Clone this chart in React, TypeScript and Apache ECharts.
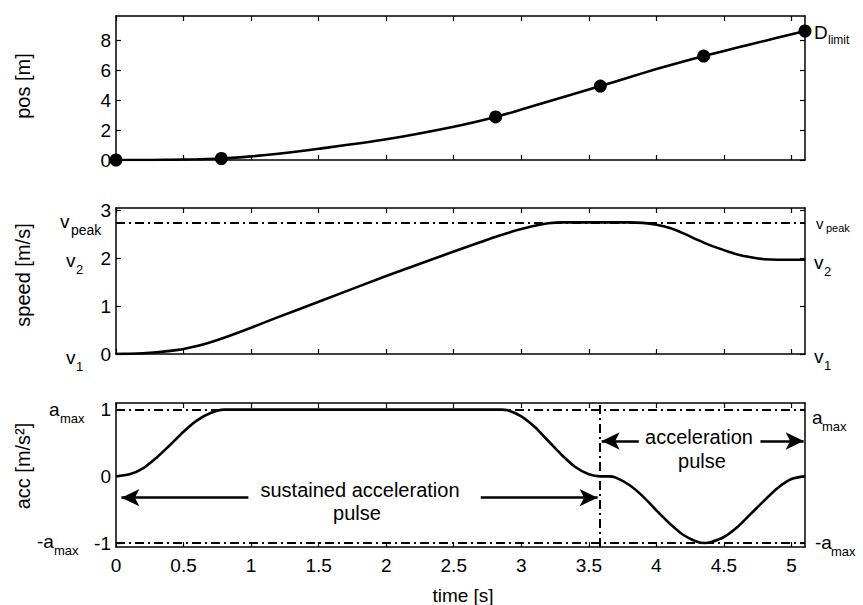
import { useEffect, useRef } from "react";
import * as echarts from "echarts";

// Axis tick values
const TIME_TICKS = [0, 0.5, 1, 1.5, 2, 2.5, 3, 3.5, 4, 4.5, 5];
const POS_TICKS = [0, 2, 4, 6, 8];
const SPEED_TICKS = [0, 1, 2, 3];
const ACC_TICKS = [-1, 0, 1];

// Position profile [m]
const posTime = [0, 0.2, 0.4, 0.6, 0.78, 1.0, 1.2, 1.5, 2.0, 2.5, 2.81, 3.0, 3.2, 3.4, 3.585, 3.8, 4.0, 4.2, 4.35, 4.5, 4.7, 4.9, 5.1];
const posValue = [0, 0.0, 0.02, 0.05, 0.1, 0.24, 0.42, 0.75, 1.38, 2.22, 2.87, 3.36, 3.9, 4.44, 4.93, 5.52, 6.06, 6.57, 6.93, 7.27, 7.72, 8.16, 8.6];

// Waypoints marked on the position trace
const waypointTime = [0, 0.78, 2.81, 3.585, 4.35, 5.1];
const waypointPos = [0, 0.1, 2.87, 4.93, 6.93, 8.6];

// Speed profile [m/s]
const speedTime = [0, 0.1, 0.2, 0.3, 0.4, 0.5, 0.6, 0.7, 0.8, 1.0, 1.2, 1.5, 2.0, 2.5, 2.7, 2.8, 2.9, 3.0, 3.1, 3.2, 3.3, 3.6, 3.8, 3.9, 4.0, 4.1, 4.2, 4.3, 4.4, 4.5, 4.6, 4.7, 4.8, 4.9, 5.1];
const speedValue = [0, 0.005, 0.015, 0.035, 0.065, 0.105, 0.165, 0.245, 0.34, 0.55, 0.77, 1.09, 1.63, 2.14, 2.34, 2.44, 2.53, 2.61, 2.68, 2.73, 2.75, 2.75, 2.75, 2.74, 2.7, 2.63, 2.52, 2.39, 2.27, 2.17, 2.08, 2.02, 1.98, 1.97, 1.97];

// Acceleration profile [m/s^2]
const accTime = [0, 0.1, 0.2, 0.3, 0.4, 0.5, 0.6, 0.7, 0.8, 1.5, 2.2, 2.85, 2.9, 3.0, 3.1, 3.2, 3.3, 3.4, 3.5, 3.585, 3.65, 3.7, 3.8, 3.9, 4.0, 4.1, 4.2, 4.3, 4.36, 4.4, 4.5, 4.6, 4.7, 4.8, 4.9, 5.0, 5.1];
const accValue = [0, 0.03, 0.12, 0.28, 0.47, 0.67, 0.84, 0.95, 1.0, 1.0, 1.0, 1.0, 0.99, 0.9, 0.74, 0.53, 0.32, 0.14, 0.03, 0, 0, -0.02, -0.13, -0.3, -0.51, -0.71, -0.88, -0.98, -1.0, -0.99, -0.91, -0.76, -0.56, -0.36, -0.17, -0.04, 0];

const V_PEAK = 2.75;
const A_MAX = 1;
const PULSE_START = 3.585;
const SUSTAINED_ARROW_Y = -0.32;
const PULSE_ARROW_Y = 0.53;

const FONT = "'Liberation Sans', Arial, Helvetica, sans-serif";
const INK = "#000";
const DASH_DOT = [9, 4, 2, 4];

const pairs = (xs: number[], ys: number[]) => xs.map((x, i) => [x, ys[i]]);

function timeAxis(gridIndex: number, position: "top" | "bottom", labels: boolean) {
  return {
    type: "value",
    gridIndex,
    position,
    min: 0,
    max: 5.1,
    axisLine: { show: true, onZero: false, lineStyle: { color: INK, width: 1.5 } },
    axisTick: { show: true, inside: true, length: 5, customValues: TIME_TICKS, lineStyle: { color: INK, width: 1.2 } },
    axisLabel: { show: labels, customValues: TIME_TICKS, color: INK, fontSize: 19, fontFamily: FONT, margin: 9 },
    splitLine: { show: false },
  };
}

function valueAxis(gridIndex: number, position: "left" | "right", min: number, max: number, ticks: number[], labels: boolean) {
  return {
    type: "value",
    gridIndex,
    position,
    min,
    max,
    axisLine: { show: true, onZero: false, lineStyle: { color: INK, width: 1.5 } },
    axisTick: { show: true, inside: true, length: 5, customValues: ticks, lineStyle: { color: INK, width: 1.2 } },
    axisLabel: { show: labels, customValues: ticks, color: INK, fontSize: 19, fontFamily: FONT, margin: 5 },
    splitLine: { show: false },
  };
}

// Letter with a subscript, anchored at the main letter's left edge / vertical centre
function subscripted(main: string, sub: string, x: number, y: number, subDx: number, subDy: number, size = 19, subSize = 13) {
  return {
    type: "group",
    children: [
      { type: "text", x, y, style: { text: main, fill: INK, font: `${size}px ${FONT}`, verticalAlign: "middle" } },
      { type: "text", x: x + subDx, y: y + subDy, style: { text: sub, fill: INK, font: `${subSize}px ${FONT}`, verticalAlign: "middle" } },
    ],
  };
}

function plainText(text: string, x: number, y: number, rotation = 0, size = 19) {
  return {
    type: "text",
    x,
    y,
    rotation,
    style: { text, fill: INK, font: `${size}px ${FONT}`, align: "center", verticalAlign: "middle" },
  };
}

const arrow = (from: number[], to: number[]) => [
  { coord: from, symbol: "none", lineStyle: { type: "solid", width: 2.5, color: INK } },
  { coord: to, symbol: "arrow", symbolSize: [13, 18] },
];

export default function App() {
  const ref = useRef<HTMLDivElement>(null);

  useEffect(() => {
    if (!ref.current) return;
    const chart = echarts.init(ref.current, undefined, { renderer: "svg" });

    const curve = (xIdx: number, yIdx: number, data: number[][]) => ({
      type: "line",
      xAxisIndex: xIdx,
      yAxisIndex: yIdx,
      data,
      showSymbol: false,
      smooth: 0.3,
      lineStyle: { color: INK, width: 2.6 },
      itemStyle: { color: INK },
      silent: true,
      z: 3,
    });

    chart.setOption({
      animation: false,
      backgroundColor: "#fff",
      grid: [
        { left: 116, right: 58, top: 16, height: 144 },
        { left: 116, right: 58, top: 208, height: 146 },
        { left: 116, right: 58, top: 403, height: 144 },
      ],
      xAxis: [
        timeAxis(0, "bottom", false),
        timeAxis(0, "top", false),
        timeAxis(1, "bottom", false),
        timeAxis(1, "top", false),
        timeAxis(2, "bottom", true),
        timeAxis(2, "top", false),
      ],
      yAxis: [
        valueAxis(0, "left", 0, 9.6, POS_TICKS, true),
        valueAxis(0, "right", 0, 9.6, POS_TICKS, false),
        valueAxis(1, "left", 0, 3.05, SPEED_TICKS, true),
        valueAxis(1, "right", 0, 3.05, SPEED_TICKS, false),
        valueAxis(2, "left", -1.06, 1.1, ACC_TICKS, true),
        valueAxis(2, "right", -1.06, 1.1, ACC_TICKS, false),
      ],
      series: [
        curve(0, 0, pairs(posTime, posValue)),
        {
          type: "scatter",
          xAxisIndex: 0,
          yAxisIndex: 0,
          data: pairs(waypointTime, waypointPos),
          symbolSize: 13,
          itemStyle: { color: INK, opacity: 1 },
          silent: true,
          z: 4,
        },
        {
          ...curve(2, 2, pairs(speedTime, speedValue)),
          markLine: {
            silent: true,
            symbol: ["none", "none"],
            label: { show: false },
            lineStyle: { color: INK, width: 2, type: DASH_DOT },
            data: [{ yAxis: V_PEAK }],
          },
        },
        {
          ...curve(4, 4, pairs(accTime, accValue)),
          markLine: {
            silent: true,
            symbol: ["none", "none"],
            label: { show: false },
            lineStyle: { color: INK, width: 2, type: DASH_DOT },
            data: [
              { yAxis: A_MAX },
              { yAxis: -A_MAX },
              { xAxis: PULSE_START },
              arrow([0.98, SUSTAINED_ARROW_Y], [0.04, SUSTAINED_ARROW_Y]),
              arrow([2.7, SUSTAINED_ARROW_Y], [PULSE_START - 0.02, SUSTAINED_ARROW_Y]),
              arrow([3.87, PULSE_ARROW_Y], [PULSE_START + 0.01, PULSE_ARROW_Y]),
              arrow([4.77, PULSE_ARROW_Y], [5.09, PULSE_ARROW_Y]),
            ],
          },
        },
      ],
      graphic: [
        // axis titles
        plainText("pos [m]", 23, 86, Math.PI / 2, 20),
        plainText("speed [m/s]", 23, 275, Math.PI / 2, 20),
        plainText("acc [m/s\u00B2]", 23, 466, Math.PI / 2, 20),
        plainText("time [s]", 463, 595, 0, 19),
        // annotations inside the acceleration panel
        plainText("sustained acceleration", 360, 490, 0, 20),
        plainText("pulse", 357, 513, 0, 20),
        plainText("acceleration", 699, 437, 0, 20),
        plainText("pulse", 702, 461, 0, 20),
        // level names, left side
        subscripted("v", "peak", 60, 221, 11, 9, 19, 14),
        subscripted("v", "2", 66, 260, 10, 9),
        subscripted("v", "1", 66, 357, 10, 9),
        subscripted("a", "max", 49, 409, 11, 9),
        subscripted("-a", "max", 37, 541, 17, 9),
        // level names, right side
        subscripted("D", "limit", 814, 32, 14, 8, 19, 12),
        subscripted("v", "peak", 816, 223, 10, 5, 15, 11),
        subscripted("v", "2", 814, 262, 10, 9),
        subscripted("v", "1", 814, 356, 10, 9),
        subscripted("a", "max", 812, 417, 10, 9),
        subscripted("-a", "max", 815, 542, 16, 9),
      ],
    });

    return () => chart.dispose();
  }, []);

  return (
    <div
      ref={ref}
      style={{ position: "fixed", left: 0, top: 0, width: 863, height: 605, background: "#fff" }}
    />
  );
}
